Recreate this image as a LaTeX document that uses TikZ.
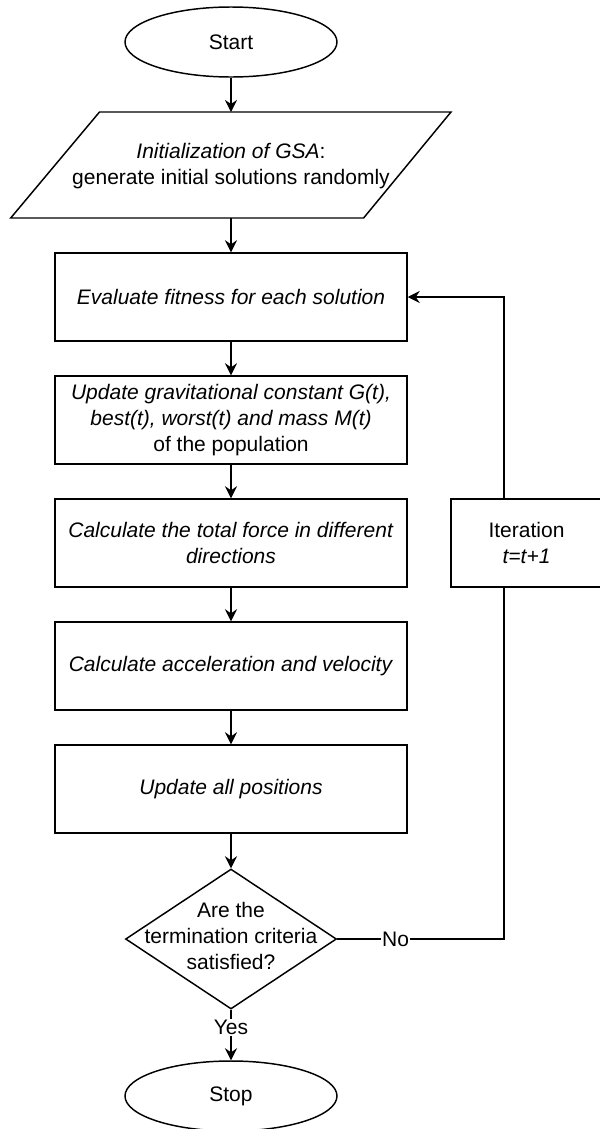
\documentclass[tikz,border=0pt]{standalone}
\usepackage{fontspec}
\setmainfont{Liberation Sans}
\usetikzlibrary{shapes.geometric,arrows.meta}

\begin{document}
\begin{tikzpicture}[x=0.75pt,y=-0.75pt,
  every node/.style={font=\fontsize{15.75}{19.5}\selectfont, align=center, inner sep=0pt},
  line/.style={line width=1.1pt},
  arr/.style={line, -{Stealth[length=9pt,width=9pt,inset=3pt]}},
  proc/.style={draw, line width=1.1pt, rectangle, minimum width=264pt, minimum height=66pt},
  term/.style={draw, line width=1.1pt, ellipse, minimum width=159pt, minimum height=52.5pt},
  decision/.style={draw, line width=1.1pt, diamond, minimum width=158.25pt, minimum height=105pt},
  lbl/.style={fill=white, inner sep=1pt}]

\useasboundingbox (0,0) rectangle (600,1129);

% terminal: start
\node[term] (start) at (231,42) {Start};

% input/output parallelogram
\coordinate (pTL) at (99.5,112);
\coordinate (pTR) at (451,112);
\coordinate (pBR) at (363.6,218);
\coordinate (pBL) at (10.7,218);
\draw[line] (pTL) -- (pTR) -- (pBR) -- (pBL) -- cycle;
\node (init) at (231,166) {\textit{Initialization of GSA}:\\generate initial solutions randomly};
\coordinate (initin) at (231,112);
\coordinate (initout) at (231,218);

% process steps
\node[proc] (fit) at (231,297) {\textit{Evaluate fitness for each solution}};
\node[proc] (upd) at (231,420) {\textit{Update gravitational constant G(t),}\\\textit{best(t), worst(t) and mass M(t)}\\of the population};
\node[proc] (force) at (231,543) {\textit{Calculate the total force in different}\\\textit{directions}};
\node[proc] (acc) at (231,666) {\textit{Calculate acceleration and velocity}};
\node[proc] (pos) at (231,789) {\textit{Update all positions}};

% decision
\node[decision] (dec) at (231,939) {};
\node (dectxt) at (231,936) {Are the\\termination criteria\\satisfied?};

% terminal: stop
\node[term] (stop) at (231,1096) {Stop};

% iteration counter
\node[proc, minimum width=113.25pt] (iter) at (526.5,543) {Iteration\\\textit{t=t+1}};
\coordinate (loopx) at (504,0);

% main flow
\draw[arr] (start.south) -- (initin);
\draw[arr] (initout) -- (fit.north);
\draw[arr] (fit) -- (upd);
\draw[arr] (upd) -- (force);
\draw[arr] (force) -- (acc);
\draw[arr] (acc) -- (pos);
\draw[arr] (pos) -- (dec.north);
\draw[arr] (dec.south) -- node[lbl, pos=0.35] {Yes} (stop.north);

% loop back
\draw[line] (dec.east) -- node[lbl, pos=0.35] {No} (dec.east -| loopx) -- (iter.south -| loopx);
\draw[arr] (iter.north -| loopx) |- (fit.east);
\end{tikzpicture}
\end{document}
